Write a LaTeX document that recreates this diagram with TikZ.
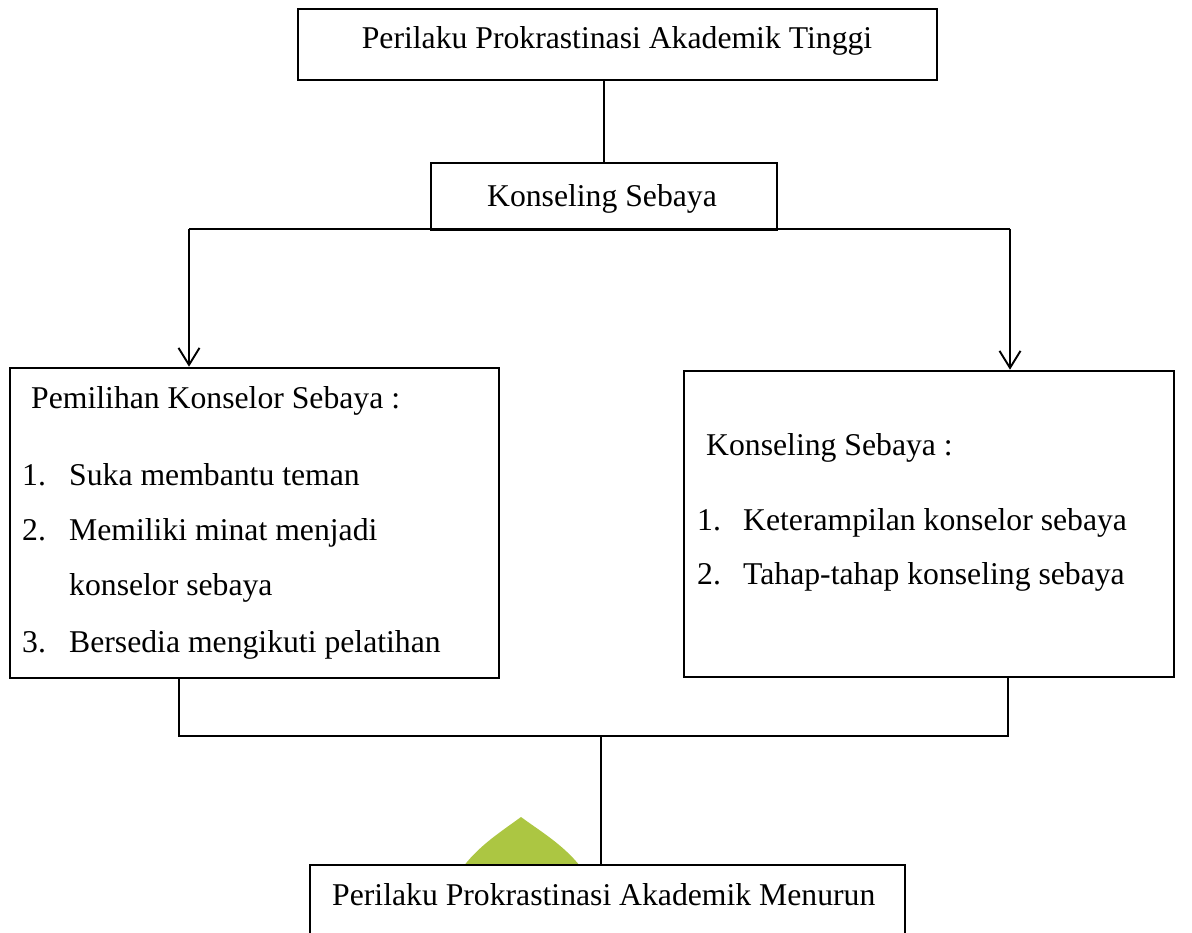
\documentclass[tikz,border=0pt]{standalone}
\usepackage{fontspec}
\setmainfont{Liberation Serif}
\usetikzlibrary{arrows.meta}
\definecolor{daun}{RGB}{172,198,66}
\tikzset{
  kotak/.style={draw, line width=2.6pt, fill=white, inner sep=0pt},
  teks/.style={inner sep=0pt, font=\fontsize{31.7}{38}\selectfont},
  garis/.style={line width=1.3pt},
  panah/.style={line width=1.9pt, -{Straight Barb[length=17pt,width=21pt,line width=1.9pt]}},
}

\begin{document}
\begin{tikzpicture}[x=1pt,y=-1pt]
\useasboundingbox (0,0) rectangle (1192,933);

% logo samar di belakang kotak bawah
\fill[daun] (521,817) .. controls (498,834) and (468,852) .. (452,885) -- (592,885) .. controls (576,852) and (544,834) .. (521,817);

% kotak-kotak
\node[kotak, minimum width=639pt, minimum height=71pt] (tinggi) at (617.5,44.5) {};
\node[kotak, minimum width=346pt, minimum height=67pt] (konseling) at (604,196.5) {};
\node[kotak, minimum width=489pt, minimum height=310pt] (pemilihan) at (254.5,523) {};
\node[kotak, minimum width=490pt, minimum height=306pt] (materi) at (929,524) {};
\node[kotak, minimum width=595pt, minimum height=95pt] (menurun) at (607.5,912.5) {};

% isi teks
\node[teks, anchor=base] (tTinggi) at (617,49) {Perilaku Prokrastinasi Akademik Tinggi};
\node[teks, anchor=base] (tKonseling) at (602,207) {Konseling Sebaya};

\node[teks, anchor=base west] (tPemilihan) at (31,408) {Pemilihan Konselor Sebaya :};
\node[teks, anchor=base west] (nSatu) at (22,485) {1.};
\node[teks, anchor=base west] (pSatu) at (69,485) {Suka membantu teman};
\node[teks, anchor=base west] (nDua) at (22,540) {2.};
\node[teks, anchor=base west] (pDua) at (69,540) {Memiliki minat menjadi};
\node[teks, anchor=base west] (pDuaB) at (69,595) {konselor sebaya};
\node[teks, anchor=base west] (nTiga) at (22,652) {3.};
\node[teks, anchor=base west] (pTiga) at (69,652) {Bersedia mengikuti pelatihan};

\node[teks, anchor=base west] (tMateri) at (706,455) {Konseling Sebaya :};
\node[teks, anchor=base west] (mSatu) at (697,530) {1.};
\node[teks, anchor=base west] (qSatu) at (743,530) {Keterampilan konselor sebaya};
\node[teks, anchor=base west] (mDua) at (697,584) {2.};
\node[teks, anchor=base west] (qDua) at (743,584) {Tahap-tahap konseling sebaya};

\node[teks, anchor=base west] (tMenurun) at (332,905) {Perilaku Prokrastinasi Akademik Menurun};

% penghubung
\coordinate (cabangKiri) at (189,229);
\coordinate (cabangKanan) at (1010,229);
\coordinate (gabungKiri) at (179,736);
\coordinate (gabungKanan) at (1008,736);
\coordinate (gabungTengah) at (601,736);

\draw[garis] (tinggi.south -| konseling.north) -- (konseling.north);
\draw[garis] (cabangKiri) -- (cabangKanan);
\draw[panah] (cabangKiri) -- (cabangKiri |- pemilihan.north);
\draw[panah] (cabangKanan) -- (cabangKanan |- materi.north);
\draw[garis] (pemilihan.south -| gabungKiri) -- (gabungKiri) -- (gabungKanan) -- (materi.south -| gabungKanan);
\draw[garis] (gabungTengah) -- (menurun.north -| gabungTengah);
\end{tikzpicture}
\end{document}
